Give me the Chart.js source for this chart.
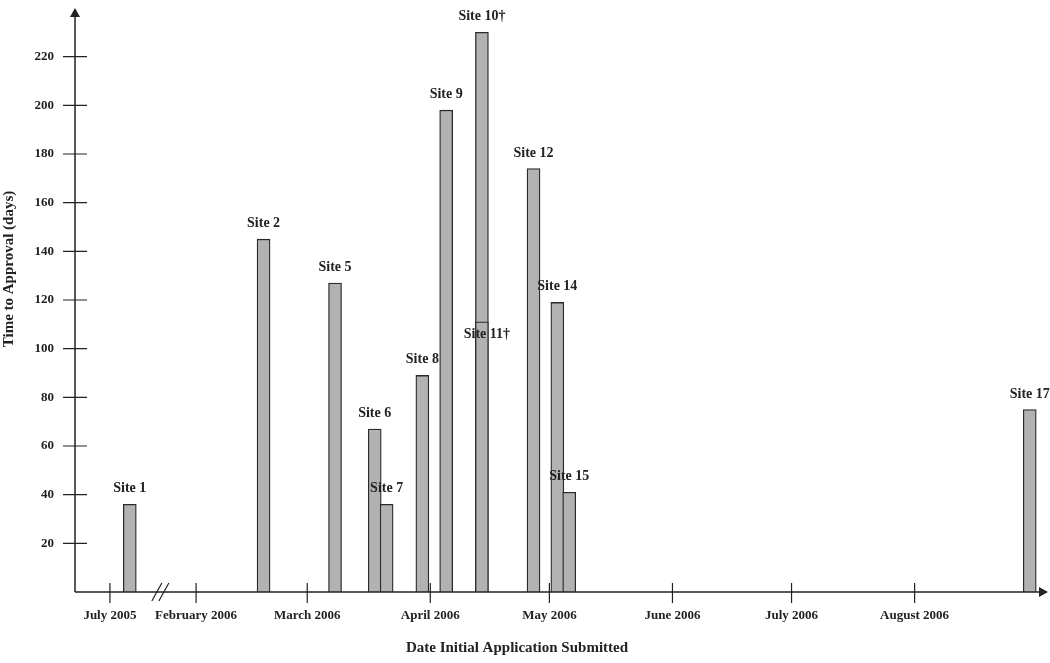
<!DOCTYPE html>
<html>
<head>
<meta charset="utf-8">
<script src="https://cdn.jsdelivr.net/npm/chart.js@4.4.1/dist/chart.umd.min.js"></script>
<style>
  body { margin: 0; background: #fff; }
  canvas { display: block; }
</style>
</head>
<body>
<canvas id="chart" width="1050" height="663"></canvas>
<script>
// sites, the date each first application went in, and days until approval
const sites = ["Site 1", "Site 2", "Site 5", "Site 6", "Site 7", "Site 8", "Site 9",
  "Site 10\u2020", "Site 11\u2020", "Site 12", "Site 14", "Site 15", "Site 17"];
const submitted = ["2005-07-06", "2006-02-18", "2006-03-08", "2006-03-18", "2006-03-21",
  "2006-03-30", "2006-04-05", "2006-04-14", "2006-04-14", "2006-04-27", "2006-05-03",
  "2006-05-06", "2006-08-30"];
const daysToApproval = [36, 145, 127, 67, 36, 89, 198, 230, 111, 174, 119, 41, 75];

const monthLabels = ["July 2005", "February 2006", "March 2006", "April 2006",
  "May 2006", "June 2006", "July 2006", "August 2006"];
const monthStarts = ["2005-07-01", "2006-02-01", "2006-03-01", "2006-04-01",
  "2006-05-01", "2006-06-01", "2006-07-01", "2006-08-01"];
const yTicks = [20, 40, 60, 80, 100, 120, 140, 160, 180, 200, 220];

// axis runs in days from 1 Feb 2006; everything before the break is squeezed
const BREAK_START = "2006-02-01";
const JULY05_POS = -21.7;
function dayNum(s) {
  const p = s.split("-").map(Number);
  return Date.UTC(p[0], p[1] - 1, p[2]) / 86400000;
}
function axisPos(s) {
  const d = dayNum(s) - dayNum(BREAK_START);
  if (d >= 0) return d;
  return JULY05_POS + (dayNum(s) - dayNum("2005-07-01"));
}

const points = submitted.map((s, i) => ({ x: axisPos(s), y: daysToApproval[i] }));
const tickPos = monthStarts.map(axisPos);

const FONT = "'Liberation Serif', 'Times New Roman', serif";
const INK = "#222";

const annotate = {
  id: "annotate",
  afterDraw(chart) {
    const ctx = chart.ctx;
    const xs = chart.scales.x, ys = chart.scales.y;
    const a = chart.chartArea;
    const x0 = a.left, y0 = a.bottom;
    ctx.save();
    ctx.strokeStyle = INK;
    ctx.fillStyle = INK;
    ctx.lineWidth = 1.5;

    // axes
    ctx.beginPath();
    ctx.moveTo(x0, y0); ctx.lineTo(x0, a.top + 6);
    ctx.moveTo(x0, y0); ctx.lineTo(a.right - 6, y0);
    ctx.stroke();
    // arrows
    ctx.beginPath();
    ctx.moveTo(x0, a.top); ctx.lineTo(x0 - 5, a.top + 9); ctx.lineTo(x0 + 5, a.top + 9);
    ctx.closePath(); ctx.fill();
    ctx.beginPath();
    ctx.moveTo(a.right, y0); ctx.lineTo(a.right - 9, y0 - 5); ctx.lineTo(a.right - 9, y0 + 5);
    ctx.closePath(); ctx.fill();

    // tick marks across the axes
    ctx.lineWidth = 1.2;
    ctx.beginPath();
    yTicks.forEach(v => {
      const y = ys.getPixelForValue(v);
      ctx.moveTo(x0 - 12, y); ctx.lineTo(x0 + 12, y);
    });
    tickPos.forEach(v => {
      const x = xs.getPixelForValue(v);
      ctx.moveTo(x, y0 - 9); ctx.lineTo(x, y0 + 11);
    });
    // axis break
    const bx = xs.getPixelForValue(-9);
    [-3.5, 3.5].forEach(o => {
      ctx.moveTo(bx + o - 5, y0 + 9); ctx.lineTo(bx + o + 5, y0 - 9);
    });
    ctx.stroke();

    // site labels
    ctx.font = "bold 14px " + FONT;
    ctx.textAlign = "center";
    ctx.textBaseline = "alphabetic";
    const meta = chart.getDatasetMeta(0);
    meta.data.forEach((bar, i) => {
      if (sites[i] === "Site 11\u2020") {
        ctx.fillText(sites[i], bar.x + 5, bar.y + 16);
      } else {
        ctx.fillText(sites[i], bar.x, bar.y - 12);
      }
    });

    // axis titles
    ctx.font = "bold 15px " + FONT;
    ctx.textBaseline = "middle";
    ctx.fillText("Date Initial Application Submitted", 517, 648);
    ctx.translate(9, 269);
    ctx.rotate(-Math.PI / 2);
    ctx.fillText("Time to Approval (days)", 0, 0);
    ctx.restore();
  }
};

new Chart(document.getElementById("chart").getContext("2d"), {
  type: "bar",
  data: {
    datasets: [{
      data: points,
      backgroundColor: "#b2b2b2",
      borderColor: "#2a2a2a",
      borderWidth: 1.3,
      barThickness: 13,
    }],
  },
  options: {
    responsive: false,
    animation: false,
    layout: { padding: { top: 8, right: 2, left: 0, bottom: 0 } },
    plugins: {
      legend: { display: false },
      tooltip: { enabled: false },
    },
    scales: {
      x: {
        type: "linear",
        offset: false,
        min: -30.5,
        max: 214.6,
        grid: { display: false, drawTicks: true, tickLength: 16 },
        border: { display: false },
        afterBuildTicks: s => { s.ticks = tickPos.map(v => ({ value: v })); },
        afterFit: s => { s.height = 71; },
        ticks: {
          autoSkip: false,
          maxRotation: 0,
          padding: 0,
          color: INK,
          font: { family: FONT, size: 13, weight: "bold" },
          callback: (v, i) => monthLabels[i],
        },
      },
      y: {
        min: 0,
        max: 240,
        grid: { display: false, drawTicks: true, tickLength: 21 },
        border: { display: false },
        afterBuildTicks: s => { s.ticks = yTicks.map(v => ({ value: v })); },
        afterFit: s => { s.width = 75; },
        ticks: {
          padding: 0,
          color: INK,
          font: { family: FONT, size: 13, weight: "bold" },
        },
      },
    },
  },
  plugins: [annotate],
});
</script>
</body>
</html>
